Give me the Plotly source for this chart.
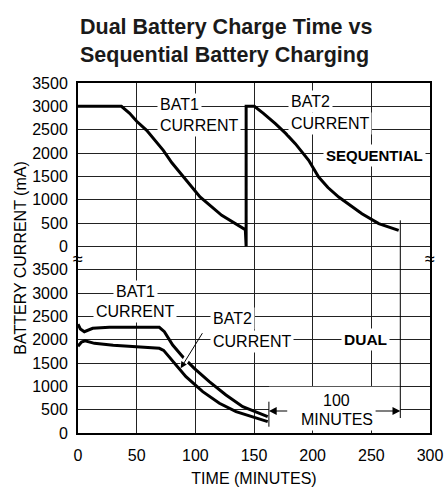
import plotly.graph_objects as go

# ---------------- data ----------------
# Sequential charging (top panel, displayed with an offset of 4000 on the shared axis)
seq_t = [0, 37, 44, 50, 58.5, 66, 72.7, 80, 89.8, 104, 122.5, 142.6, 143.3, 143.3, 150.3,
         158, 168.2, 177, 185.2, 196.6, 205.1, 213, 222.2, 242, 256.3, 273.3]
seq_ma = [3000, 3000, 2850, 2680, 2486, 2270, 2057, 1790, 1485, 1057, 664, 357, 0, 3000, 3000,
          2850, 2629, 2420, 2200, 1843, 1485, 1260, 1057, 700, 486, 343]

# Dual charging (bottom panel)
dual_t = [0, 2, 5.4, 9, 12.5, 26.7, 50, 69.3, 73.6, 80.7, 89.2, 99.1, 111.9, 126.1, 140.4, 161.7]
bat1_ma = [2330, 2230, 2171, 2215, 2243, 2264, 2264, 2264, 2171, 1886, 1636, 1386, 1100, 814, 564, 350]
bat2_t = [0, 3, 6, 9, 14, 30, 50, 69.3, 73, 83.5, 92, 106.3, 120.5, 134.7, 161.7]
bat2_ma = [1860, 1950, 1975, 1960, 1921, 1880, 1845, 1814, 1770, 1457, 1207, 886, 636, 457, 243]

x_ticks = [0, 50, 100, 150, 200, 250, 300]
y_ticks_panel = [0, 500, 1000, 1500, 2000, 2500, 3000, 3500]
OFFSET = 4000  # top panel offset on the shared y axis

REG = "Liberation Sans, Arial, Helvetica, sans-serif"
LBL = 16

fig = go.Figure()

fig.add_trace(go.Scatter(x=seq_t, y=[v + OFFSET for v in seq_ma], mode="lines",
                         line=dict(color="black", width=3), hoverinfo="skip"))
fig.add_trace(go.Scatter(x=dual_t, y=bat1_ma, mode="lines",
                         line=dict(color="black", width=3), hoverinfo="skip"))
fig.add_trace(go.Scatter(x=bat2_t, y=bat2_ma, mode="lines",
                         line=dict(color="black", width=3), hoverinfo="skip"))

yvals = y_ticks_panel + [v + OFFSET for v in y_ticks_panel]
ytext = [str(v) for v in y_ticks_panel] * 2

ann = []
def label(x, y, text, bold=False, xanchor="center", size=LBL):
    ann.append(dict(x=x, y=y, text=f"<b>{text}</b>" if bold else text, showarrow=False,
                    xanchor=xanchor, yanchor="middle", bgcolor="white", borderpad=2,
                    font=dict(family=REG, size=size, color="black")))

# top panel labels
label(67.3, 7029, "BAT1", xanchor="left")
label(67.3, 6579, "CURRENT", xanchor="left")
label(179, 7100, "BAT2", xanchor="left")
label(179, 6636, "CURRENT", xanchor="left")
label(252.7, 5957, "SEQUENTIAL", bold=True, size=15)
# bottom panel labels
label(48.6, 3029, "BAT1")
label(48.6, 2600, "CURRENT")
label(112.5, 2443, "BAT2", xanchor="left")
label(112.5, 1967, "CURRENT", xanchor="left")
label(245.2, 1993, "DUAL", bold=True, size=15.5)

t_left = dual_t[-1] + 1
t_right = seq_t[-1] + 1.4

shapes = [
    # cleared region behind the "100 MINUTES" dimension
    dict(type="rect", xref="x", yref="y", x0=t_left, x1=t_right, y0=90, y1=990,
         fillcolor="white", line=dict(width=0), layer="between"),
    # dimension extension lines
    dict(type="line", xref="x", yref="y", x0=t_left, x1=t_left, y0=135, y1=671,
         line=dict(color="black", width=1)),
    dict(type="line", xref="x", yref="y", x0=t_right, x1=t_right, y0=321, y1=4557,
         line=dict(color="black", width=1)),
    # white halo where the BAT2 arrow crosses the BAT1 curve
    dict(type="line", xref="x", yref="y", x0=97.1, y0=1779, x1=89.2, y1=1457,
         line=dict(color="white", width=6), layer="above"),
]

# dimension arrows
for tail, tip in [((179.6, 471), (t_left, 471)), ((252, 471), (t_right, 471))]:
    ann.append(dict(x=tip[0], y=tip[1], ax=tail[0], ay=tail[1], axref="x", ayref="y",
                    xref="x", yref="y", text="", showarrow=True, arrowhead=2,
                    arrowsize=1.3, arrowwidth=1.2, arrowcolor="black"))
label(219.9, 707, "100")
label(220.7, 279, "MINUTES")

# BAT2 pointer arrow
ann.append(dict(x=87.5, y=1386, ax=106.8, ay=2171, axref="x", ayref="y", xref="x", yref="y",
                text="", showarrow=True, arrowhead=2, arrowsize=1.3, arrowwidth=1,
                arrowcolor="black"))

# axis-break symbols
for xb in [0, 300]:
    ann.append(dict(x=xb, y=3729, text="≈", showarrow=False, xanchor="center", yanchor="middle",
                    font=dict(family=REG, size=18, color="black")))

# title
ann.append(dict(x=0, y=1, xref="paper", yref="paper", xanchor="left", yanchor="bottom",
                yshift=14, align="left", showarrow=False,
                text="<b>Dual Battery Charge Time vs<br>Sequential Battery Charging</b>",
                font=dict(family=REG, size=21.5, color="#1a1a1a")))

fig.update_layout(
    width=444, height=487,
    margin=dict(l=78, r=14, t=83, b=54, autoexpand=False),
    paper_bgcolor="white", plot_bgcolor="white",
    showlegend=False,
    font=dict(family=REG, size=16, color="black"),
    annotations=ann, shapes=shapes,
    xaxis=dict(range=[0, 300], tickvals=x_ticks, ticktext=[str(v) for v in x_ticks],
               showgrid=True, gridcolor="#222", gridwidth=1, zeroline=False,
               showline=True, linecolor="black", linewidth=2, mirror=True,
               ticks="", tickfont=dict(family=REG, size=16), ticklabeloverflow="allow",
               ticklabelstandoff=7, automargin=False,
               title=dict(text="TIME (MINUTES)", font=dict(family=REG, size=16), standoff=10)),
    yaxis=dict(range=[0, 7500], tickvals=yvals, ticktext=ytext,
               showgrid=True, gridcolor="#222", gridwidth=1, zeroline=False,
               showline=True, linecolor="black", linewidth=2, mirror=True,
               ticks="", tickfont=dict(family=REG, size=16), ticklabeloverflow="allow",
               ticklabelstandoff=5, automargin=False,
               title=dict(text="BATTERY CURRENT (mA)", font=dict(family=REG, size=16), standoff=2)),
)

fig.write_html("out.html", config={"displayModeBar": False},
               post_script="document.body.style.margin='0';document.body.style.overflow='hidden';")
